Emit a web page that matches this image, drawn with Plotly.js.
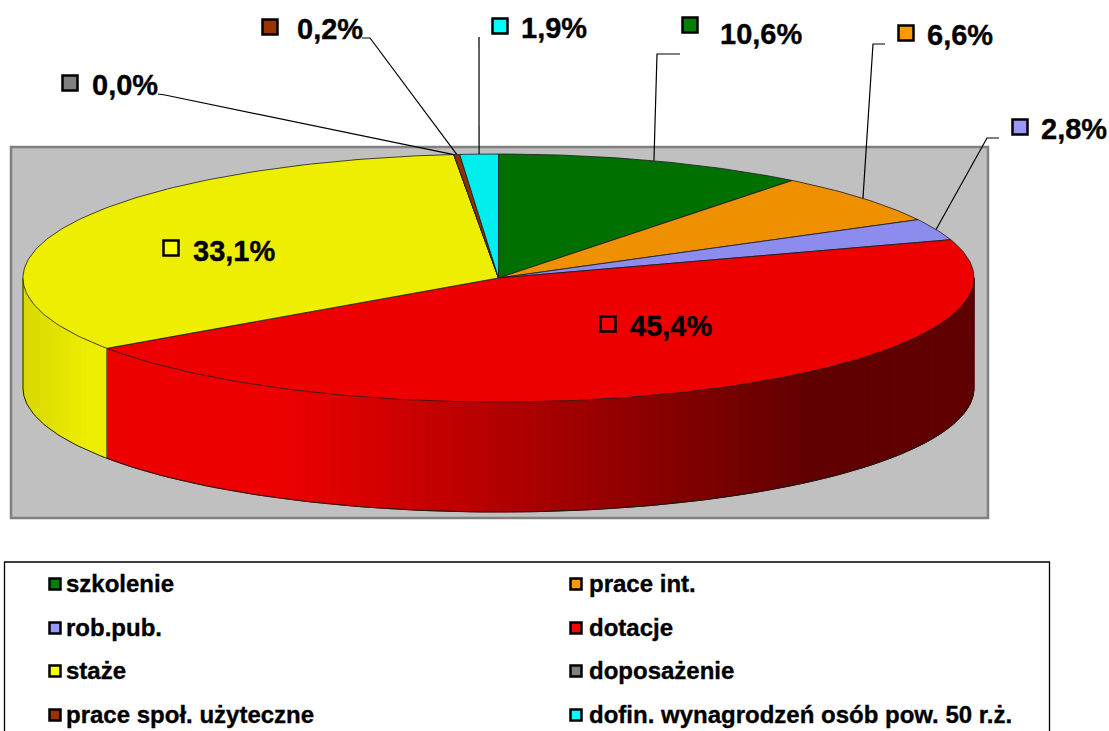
<!DOCTYPE html>
<html><head><meta charset="utf-8">
<script src="https://cdn.plot.ly/plotly-3.0.1.min.js"></script>
<style>html,body{margin:0;padding:0;background:#fff;overflow:hidden}
.annotation-text{stroke:#000;stroke-width:.35px}</style>
</head><body><div id="chart" style="width:1109px;height:731px"></div>
<script>
// Data
const categories = ['szkolenie','prace int.','rob.pub.','dotacje','staże','doposażenie','prace społ. użyteczne','dofin. wynagrodzeń osób pow. 50 r.ż.'];
const percentLabels = ['10,6%','6,6%','2,8%','45,4%','33,1%','0,0%','0,2%','1,9%'];
// Angular share of each slice as drawn in the picture
const sliceShares = [10.6,6.6,2.8,45.4,33.1,0.0,0.2,1.3];
const legendColors = ['#008000','#ff9900','#9999ff','#ff0000','#ffff00','#808080','#993300','#00ffff'];
const topColors = ['#007000','#ee9000','#8c8cee','#ee0000','#eeee00','#777777','#8e3000','#00eeee'];

// Layout: pie geometry and label placement (in axis units)
const cx = 498.5, cy = 278, rx = 475.5, ry = 124, depth = 110;
const labelX = [719,926,1040,629,192,91,296,520];
const labelY = [34,35,129,326,251,85,29,28];
const markerX = [690,906,1020,608,171,70,270,500];
const markerY = [25,33,127,324,248,83,27,26];
const elbowX = [[680,657],[885,873],[999,987],null,null,[158,165],[362,370],[479,479]];
const elbowY = [[54,54],[44,44],[138,138],null,null,[94,95],[38,38],[37,37]];
const legendRowY = [584,628,671,715];
const legendColX = [55,576];
const legendTextGap = [10,12];

const px = t => cx + rx*Math.sin(t*Math.PI/180);
const py = (t,dz=0) => cy - ry*Math.cos(t*Math.PI/180) + dz;
function arc(a,b,dz=0){const xs=[],ys=[];const n=Math.max(2,Math.ceil(Math.abs(b-a)));
  for(let i=0;i<=n;i++){const t=a+(b-a)*i/n;xs.push(px(t));ys.push(py(t,dz));}return [xs,ys];}

const total = sliceShares.reduce((s,v)=>s+v,0);
let acc = 0;
const startA = [], endA = [];
sliceShares.forEach(v=>{startA.push(acc/total*360);acc+=v;endA.push(acc/total*360);});

const traces = [];
function redShade(t){const x=px(t);const f=Math.min(1,Math.max(0,(x-285)/525));return 'rgb('+Math.round(236-140*f)+',0,0)';}
function yellowShade(t){const x=px(t);const f=Math.min(1,Math.max(0,(x-23)/67));const v=Math.round(216+22*f);return 'rgb('+v+','+v+',0)';}

// Front wall: thin strips
const step = 1.5;
for(let t=90;t<270;t+=step){
  const a=t,b=Math.min(t+step,270);
  const mid=(a+b)/2;
  const col = mid<endA[3] ? redShade(mid) : yellowShade(mid);
  traces.push({type:'scatter',mode:'lines',x:[px(a),px(b),px(b),px(a),px(a)],y:[py(a),py(b),py(b,depth),py(a,depth),py(a)],
    fill:'toself',fillcolor:col,line:{color:col,width:1},hoverinfo:'skip',showlegend:false});
}
// Wall outline
{const [bx,by]=arc(90,270,depth);
 traces.push({type:'scatter',mode:'lines',x:[px(90),...bx,px(270)],y:[py(90),...by,py(270)],line:{color:'#1a1a1a',width:1},hoverinfo:'skip',showlegend:false});
 traces.push({type:'scatter',mode:'lines',x:[px(endA[3]),px(endA[3])],y:[py(endA[3]),py(endA[3],depth)],line:{color:'#333333',width:1},hoverinfo:'skip',showlegend:false});}
// Top slices
categories.forEach((c,i)=>{
  const [ax,ay]=arc(startA[i],endA[i]);
  traces.push({type:'scatter',mode:'lines',name:c,x:[cx,...ax,cx],y:[cy,...ay,cy],fill:'toself',fillcolor:topColors[i],
    line:{color:'#1a1a1a',width:0.8},hoverinfo:'name',showlegend:false});
});
// Leader lines, ending on the slice's mid angle
categories.forEach((c,i)=>{
  if(!elbowX[i])return;
  const m=(startA[i]+endA[i])/2;
  traces.push({type:'scatter',mode:'lines',x:[...elbowX[i],px(m)],y:[...elbowY[i],py(m)],line:{color:'#000',width:1.2},hoverinfo:'skip',showlegend:false});
});
// Label keys
traces.push({type:'scatter',mode:'markers',x:markerX,y:markerY,hoverinfo:'skip',showlegend:false,
  marker:{symbol:'square',size:15,color:legendColors,line:{color:'#000',width:2.5}}});
// Legend keys
const lx=[],ly=[];categories.forEach((c,i)=>{lx.push(legendColX[i%2]);ly.push(legendRowY[Math.floor(i/2)]);});
traces.push({type:'scatter',mode:'markers',x:lx,y:ly,hoverinfo:'skip',showlegend:false,
  marker:{symbol:'square',size:11,color:legendColors,line:{color:'#000',width:2.5}}});

const font = 'Liberation Sans, Arial, sans-serif';
const annotations = [];
percentLabels.forEach((s,i)=>annotations.push({x:labelX[i],y:labelY[i],text:'<b>'+s+'</b>',showarrow:false,xanchor:'left',yanchor:'middle',borderpad:0,
  font:{family:font,size:29,color:'#000'}}));
categories.forEach((c,i)=>annotations.push({x:lx[i]+legendTextGap[i%2],y:ly[i]-0.5,text:'<b>'+c+'</b>',showarrow:false,xanchor:'left',yanchor:'middle',borderpad:0,
  font:{family:font,size:24,color:'#000'}}));

const layout = {
  width:1109,height:731,margin:{l:0,r:0,t:0,b:0},paper_bgcolor:'#fff',plot_bgcolor:'#fff',showlegend:false,
  xaxis:{range:[0,1109],visible:false,fixedrange:true},
  yaxis:{range:[731,0],visible:false,fixedrange:true},
  shapes:[
    {type:'rect',layer:'below',xref:'x',yref:'y',x0:11,x1:988,y0:147,y1:518,fillcolor:'#c0c0c0',line:{color:'#808080',width:2.5}},
    {type:'rect',layer:'below',xref:'x',yref:'y',x0:4.5,x1:1049.5,y0:562,y1:740,fillcolor:'#fff',line:{color:'#000',width:1.3}}
  ],
  annotations
};
Plotly.newPlot('chart',traces,layout,{displayModeBar:false,staticPlot:true});
</script></body></html>
